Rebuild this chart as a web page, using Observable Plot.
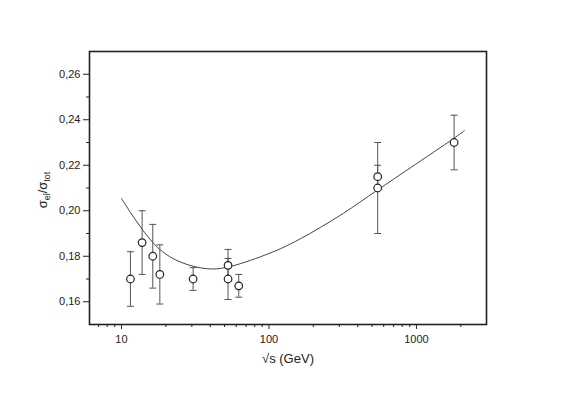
<!DOCTYPE html>
<html>
<head>
<meta charset="utf-8">
<script src="https://cdn.jsdelivr.net/npm/d3@7"></script>
<script src="https://cdn.jsdelivr.net/npm/@observablehq/plot@0.6"></script>
<style>
  body { margin: 0; background: #fff; }
  #chart { width: 561px; height: 394px; }
</style>
</head>
<body>
<div id="chart"></div>
<script>
// Measured points
const energies = [11.5, 13.8, 16.3, 18.2, 30.6, 52.8, 52.8, 62.4, 546, 546, 1800];
const ratio    = [0.170, 0.186, 0.180, 0.172, 0.170, 0.176, 0.170, 0.167, 0.215, 0.210, 0.230];
const errLow   = [0.158, 0.172, 0.166, 0.159, 0.165, 0.169, 0.161, 0.162, 0.210, 0.190, 0.218];
const errHigh  = [0.182, 0.200, 0.194, 0.185, 0.175, 0.183, 0.179, 0.172, 0.220, 0.230, 0.242];

// Fitted curve
const curveX = [10, 11.5, 13.8, 16.3, 18.2, 22.5, 30.6, 41.4, 53.1, 74.9, 100.8, 119.7, 163.6, 223.5, 320, 541.5, 910.7, 1781, 2115];
const curveY = [0.2054, 0.1993, 0.1919, 0.1861, 0.1830, 0.1789, 0.1756, 0.1744, 0.1753, 0.1782, 0.1813, 0.1833, 0.1877, 0.1927, 0.1989, 0.2090, 0.2189, 0.2317, 0.2352];

// Axis ticks
const yMajor = [0.16, 0.18, 0.20, 0.22, 0.24, 0.26];
const yMinor = [0.17, 0.19, 0.21, 0.23, 0.25];
const xMajor = [10, 100, 1000];
const xMinor = [7, 8, 9, 20, 30, 40, 50, 60, 70, 80, 90, 200, 300, 400, 500, 600, 700, 800, 900, 2000];

const points = energies.map((e, i) => ({x: e, y: ratio[i], lo: errLow[i], hi: errHigh[i]}));
const curve = curveX.map((x, i) => ({x, y: curveY[i]}));

const capSymbol = {
  draw(context, size) {
    const w = Math.sqrt(size / Math.PI);
    context.moveTo(-w, 0);
    context.lineTo(w, 0);
  }
};

const chart = Plot.plot({
  width: 561,
  height: 394,
  marginLeft: 89,
  marginRight: 75,
  marginTop: 51,
  marginBottom: 70,
  style: {fontFamily: "'Liberation Sans', Arial, sans-serif", fontSize: "11px", color: "#222", background: "#fff"},
  x: {type: "log", domain: [6.07, 2985]},
  y: {domain: [0.15, 0.27]},
  marks: [
    Plot.axisY({ticks: yMajor, tickFormat: d => d.toFixed(2).replace(".", ","), tickSize: 6, tickPadding: 3, label: null, stroke: "#222"}),
    Plot.axisY({ticks: yMinor, tickFormat: () => "", tickSize: 3, label: null, stroke: "#222"}),
    Plot.axisX({ticks: xMajor, tickFormat: d => String(d), tickSize: 5, tickPadding: 6, label: null, stroke: "#222"}),
    Plot.axisX({ticks: xMinor, tickFormat: () => "", tickSize: 3, label: null, stroke: "#222"}),
    Plot.frame({stroke: "#222", strokeWidth: 1.6}),
    Plot.line(curve, {x: "x", y: "y", curve: "catmull-rom", stroke: "#444", strokeWidth: 1}),
    Plot.ruleX(points, {x: "x", y1: "lo", y2: "hi", stroke: "#555", strokeWidth: 1}),
    Plot.dot(points, {x: "x", y: "lo", symbol: capSymbol, r: 3.5, stroke: "#555", strokeWidth: 1}),
    Plot.dot(points, {x: "x", y: "hi", symbol: capSymbol, r: 3.5, stroke: "#555", strokeWidth: 1}),
    Plot.dot(points, {x: "x", y: "y", r: 3.8, stroke: "#222", fill: "white", strokeWidth: 1.2}),
    Plot.text(["√s (GeV)"], {frameAnchor: "bottom", dy: 38, text: d => d, fontSize: 13, fill: "#222"})
  ]
});

document.getElementById("chart").appendChild(chart);

// Y-axis label with subscripts
const svg = d3.select(chart);
const lbl = svg.append("text")
  .attr("transform", "translate(47,190) rotate(-90)")
  .attr("text-anchor", "middle")
  .attr("fill", "#222")
  .attr("font-family", "'Liberation Sans', Arial, sans-serif")
  .attr("font-size", 13);
lbl.append("tspan").text("σ");
lbl.append("tspan").attr("font-size", 9).attr("dy", 3).text("el");
lbl.append("tspan").attr("dy", -3).text("/σ");
lbl.append("tspan").attr("font-size", 9).attr("dy", 3).text("tot");
</script>
</body>
</html>
